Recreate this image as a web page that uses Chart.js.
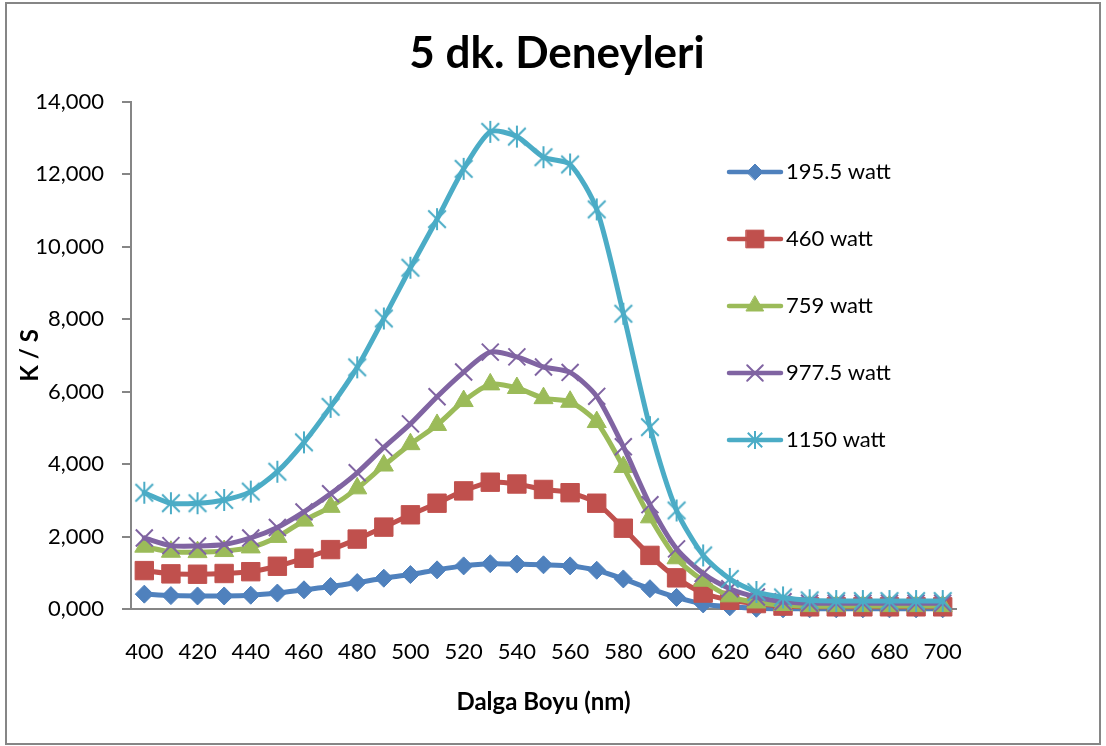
<!DOCTYPE html>
<html>
<head>
<meta charset="utf-8">
<title>5 dk. Deneyleri</title>
<script src="https://cdn.jsdelivr.net/npm/chart.js@4.4.0/dist/chart.umd.min.js"></script>
<style>
  html, body { margin: 0; padding: 0; background: #fff; }
  #wrap { width: 1106px; height: 746px; }
</style>
</head>
<body>
<div id="wrap"><canvas id="kmChart" width="1106" height="746"></canvas></div>
<script>
/*
    5 DK. DENEYLERI - K/S vs wavelength
*/

// x axis categories (nm)
const wavelengths = [400, 410, 420, 430, 440, 450, 460, 470, 480, 490, 500,
                     510, 520, 530, 540, 550, 560, 570, 580, 590, 600,
                     610, 620, 630, 640, 650, 660, 670, 680, 690, 700];

// y tick labels as printed on the original
const yTickLabels = ['0,000', '2,000', '4,000', '6,000', '8,000', '10,000', '12,000', '14,000'];

const seriesNames = ['195.5 watt', '460 watt', '759 watt', '977.5 watt', '1150 watt'];

// K/S values
const w195 = [410, 370, 360, 360, 380, 440, 530, 620, 730, 850, 950,
              1080, 1190, 1250, 1240, 1220, 1190, 1070, 830, 560, 320,
              140, 60, 20, 5, 5, 5, 5, 5, 5, 5];
const w460 = [1060, 970, 960, 980, 1030, 1180, 1400, 1640, 1930, 2260, 2600,
              2920, 3260, 3500, 3450, 3300, 3210, 2920, 2230, 1480, 860,
              440, 240, 150, 80, 60, 60, 60, 60, 60, 60];
const w759 = [1720, 1580, 1570, 1600, 1700, 1990, 2440, 2820, 3330, 3960, 4550,
              5080, 5740, 6200, 6100, 5820, 5720, 5160, 3920, 2530, 1400,
              780, 350, 180, 110, 80, 80, 80, 80, 80, 80];
const w977 = [1960, 1750, 1740, 1780, 1960, 2250, 2680, 3180, 3760, 4460, 5110,
              5860, 6540, 7090, 6960, 6680, 6530, 5870, 4480, 2880, 1660,
              980, 560, 330, 200, 160, 160, 160, 160, 160, 160];
const w1150 = [3210, 2920, 2920, 3010, 3240, 3790, 4600, 5580, 6670, 8020, 9420,
               10760, 12150, 13170, 13040, 12470, 12270, 11030, 8150, 5020, 2720,
               1480, 830, 470, 320, 240, 220, 220, 220, 220, 220];

const seriesValues = [w195, w460, w759, w977, w1150];

// styles
const colors = ['#4F81BD', '#C0504D', '#9BBB59', '#8064A2', '#4BACC6'];
const fontFamily = 'Lato, "Open Sans", sans-serif';

// excel-like asterisk marker
function makeStar(color, size, lw) {
    const c = document.createElement('canvas');
    c.width = size; c.height = size;
    const g = c.getContext('2d');
    const m = size / 2, a = size / 2 - 2;
    g.strokeStyle = color;
    g.lineWidth = lw;
    g.beginPath();
    g.moveTo(m - a * 0.8, m - a * 0.8); g.lineTo(m + a * 0.8, m + a * 0.8);
    g.moveTo(m + a * 0.8, m - a * 0.8); g.lineTo(m - a * 0.8, m + a * 0.8);
    g.moveTo(m, m - a); g.lineTo(m, m + a);
    g.stroke();
    return c;
}

const markers = [
    { style: 'rectRot', radius: 9, border: 1, legendRadius: 8 },
    { style: 'rect', radius: 13, border: 1, legendRadius: 12.5 },
    { style: 'triangle', radius: 11, border: 1, legendRadius: 10 },
    { style: 'crossRot', radius: 12, border: 2, legendRadius: 11 },
    { style: makeStar(colors[4], 26, 2), radius: 12, border: 2, legendStyle: makeStar(colors[4], 22, 2) }
];

// legend drawn on the plot, like the excel one
const legendTop = 172;
const legendGap = 67;

function drawMarker(ctx, mk, color, x, y) {
    const style = mk.legendStyle || mk.style;
    if (style instanceof HTMLCanvasElement) {
        ctx.drawImage(style, x - style.width / 2, y - style.height / 2);
        return;
    }
    ctx.fillStyle = color;
    ctx.strokeStyle = color;
    ctx.lineWidth = mk.border;
    Chart.helpers.drawPoint(ctx, {
        pointStyle: style, radius: mk.legendRadius, rotation: 0, borderWidth: mk.border
    }, x, y);
}

const sideLegend = {
    id: 'sideLegend',
    afterDraw(chart) {
        const ctx = chart.ctx;
        chart.data.datasets.forEach((ds, i) => {
            const y = legendTop + i * legendGap;
            ctx.save();
            ctx.strokeStyle = colors[i];
            ctx.lineWidth = 4.5;
            ctx.lineCap = 'round';
            ctx.beginPath();
            ctx.moveTo(729, y);
            ctx.lineTo(781, y);
            ctx.stroke();
            drawMarker(ctx, markers[i], colors[i], 755, y);
            ctx.fillStyle = '#000';
            ctx.font = '22px ' + fontFamily;
            ctx.textAlign = 'left';
            ctx.textBaseline = 'middle';
            ctx.fillText(ds.label, 786, y);
            ctx.restore();
        });
    }
};

// white background + grey frame
const frame = {
    id: 'frame',
    beforeDraw(chart) {
        const ctx = chart.ctx;
        ctx.save();
        ctx.fillStyle = '#fff';
        ctx.fillRect(0, 0, chart.width, chart.height);
        ctx.strokeStyle = '#868686';
        ctx.lineWidth = 2;
        ctx.strokeRect(6, 3, 1094, 741);
        ctx.restore();
    }
};

const datasets = seriesNames.map((name, i) => ({
    label: name,
    data: seriesValues[i],
    borderColor: colors[i],
    backgroundColor: colors[i],
    borderWidth: 5,
    borderJoinStyle: 'round',
    borderCapStyle: 'round',
    tension: 0.25,
    pointStyle: markers[i].style,
    pointRadius: markers[i].radius,
    pointHoverRadius: markers[i].radius,
    pointBackgroundColor: colors[i],
    pointBorderColor: colors[i],
    pointBorderWidth: markers[i].border,
    clip: false,
    order: seriesNames.length - i
}));

const ctx = document.getElementById('kmChart').getContext('2d');
const myChart = new Chart(ctx, {
    type: 'line',
    data: {
        labels: wavelengths.map(String),
        datasets: datasets
    },
    options: {
        responsive: false,
        devicePixelRatio: 1,
        animation: false,
        layout: { padding: { left: 14, right: 6, top: 0, bottom: 10 } },
        scales: {
            x: {
                type: 'category',
                offset: true,
                grid: { display: false, drawTicks: false },
                border: { display: true, color: '#868686', width: 2 },
                ticks: {
                    autoSkip: false,
                    maxRotation: 0,
                    padding: 30,
                    color: '#000',
                    font: { family: fontFamily, size: 22 },
                    callback: (val, i) => (i % 2 === 0 ? String(wavelengths[i]) : '')
                },
                title: {
                    display: true,
                    text: 'Dalga Boyu (nm)',
                    color: '#000',
                    font: { family: fontFamily, size: 24, weight: 'bold' },
                    padding: { top: 0, bottom: 19 }
                },
                afterFit: (scale) => { scale.height = 127; }
            },
            y: {
                min: 0,
                max: 14000,
                ticks: {
                    stepSize: 2000,
                    padding: 18,
                    color: '#000',
                    font: { family: fontFamily, size: 22 },
                    callback: (val) => yTickLabels[Math.round(val / 2000)]
                },
                grid: { drawOnChartArea: false, drawTicks: true, tickLength: 9, color: '#868686', lineWidth: 2 },
                border: { display: true, color: '#868686', width: 2 },
                title: {
                    display: true,
                    text: 'K / S',
                    color: '#000',
                    font: { family: fontFamily, size: 24, weight: 'bold' },
                    padding: { top: 2, bottom: 0 }
                },
                afterFit: (scale) => { scale.width = 117; }
            },
            // empty box on the right so the plot stops where the original does
            yRight: {
                position: 'right',
                display: true,
                grid: { display: false, drawTicks: false },
                border: { display: false },
                ticks: { display: false },
                afterFit: (scale) => { scale.width = 144; }
            }
        },
        plugins: {
            legend: { display: false },
            tooltip: { enabled: false },
            title: {
                display: true,
                text: '5 dk. Deneyleri',
                color: '#000',
                font: { family: fontFamily, size: 44, weight: 'bold' },
                padding: { top: 27, bottom: 22 }
            }
        }
    },
    plugins: [frame, sideLegend]
});
</script>
</body>
</html>
